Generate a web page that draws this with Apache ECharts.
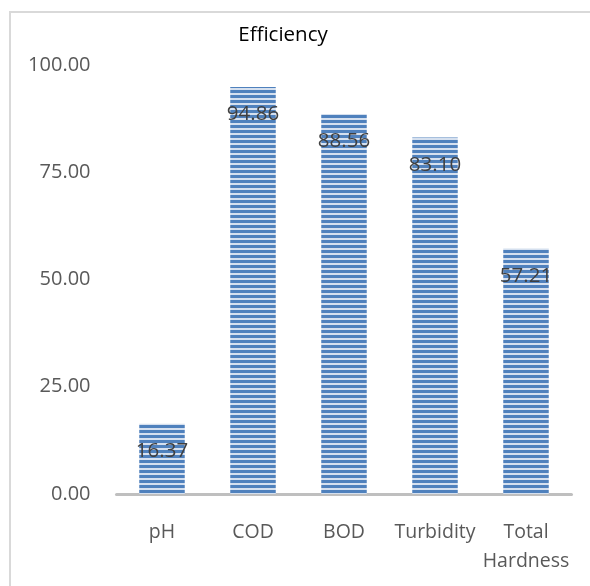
<!DOCTYPE html>
<html>
<head>
<meta charset="utf-8">
<script src="https://cdn.jsdelivr.net/npm/echarts@6/dist/echarts.min.js"></script>
<style>
  html, body { margin: 0; padding: 0; background: #fff; }
  #chart { width: 590px; height: 586px; }
</style>
</head>
<body>
<div id="chart"></div>
<script>
const categories = ["pH", "COD", "BOD", "Turbidity", "Total\nHardness"];
const efficiency = [16.37, 94.86, 88.56, 83.10, 57.21];
const yTicks = [0, 25, 50, 75, 100];

// horizontal striped fill like the Excel pattern
function stripes() {
  const c = document.createElement("canvas");
  c.width = 4;
  c.height = 5;
  const ctx = c.getContext("2d");
  ctx.fillStyle = "#d5e0ef";
  ctx.fillRect(0, 0, 4, 5);
  ctx.fillStyle = "#4f81bd";
  ctx.fillRect(0, 0, 4, 3);
  return c;
}

const chart = echarts.init(document.getElementById("chart"));
const font = '"Open Sans", "Liberation Sans", sans-serif';

chart.setOption({
  backgroundColor: "#fff",
  textStyle: { fontFamily: font },
  title: {
    text: "Efficiency",
    left: 278,
    top: 20,
    textAlign: "center",
    textStyle: { fontFamily: font, fontSize: 20.5, fontWeight: "normal", color: "#000" },
  },
  graphic: [
    {
      type: "rect",
      shape: { x: 10, y: 12, width: 620, height: 620 },
      style: { fill: "none", stroke: "#d9d9d9", lineWidth: 2 },
      silent: true,
    },
  ],
  grid: { left: 116.5, right: 18.5, top: 65, bottom: 92 },
  xAxis: {
    type: "category",
    data: categories,
    axisLine: { lineStyle: { color: "#bfbfbf", width: 3 } },
    axisTick: { show: false },
    axisLabel: {
      color: "#595959",
      fontFamily: font,
      fontSize: 19.5,
      lineHeight: 29,
      margin: 24,
      verticalAlign: "top",
      interval: 0,
    },
  },
  yAxis: {
    type: "value",
    min: yTicks[0],
    max: yTicks[yTicks.length - 1],
    interval: 25,
    splitLine: { show: false },
    axisLine: { show: false },
    axisTick: { show: false },
    axisLabel: {
      color: "#595959",
      fontFamily: font,
      fontSize: 20,
      margin: 26,
      formatter: (v) => v.toFixed(2),
    },
  },
  series: [
    {
      name: "Efficiency",
      type: "bar",
      data: efficiency,
      barWidth: "50%",
      itemStyle: { color: { image: stripes(), repeat: "repeat" } },
      label: {
        show: true,
        position: "insideTop",
        distance: 17,
        color: "#404040",
        fontFamily: font,
        fontSize: 20.5,
        formatter: (p) => p.value.toFixed(2),
      },
    },
  ],
});
</script>
</body>
</html>
